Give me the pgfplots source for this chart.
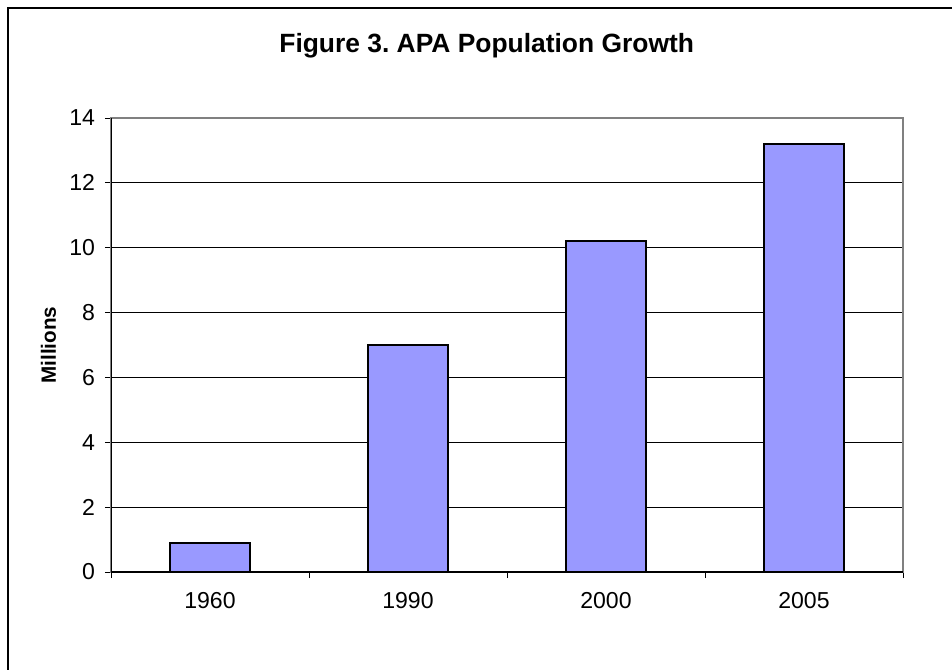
\documentclass[border=0pt]{standalone}
\usepackage{pgfplots}
\pgfplotsset{compat=1.18}
\usepackage{fontspec}
\setmainfont{Liberation Sans}
\definecolor{barblue}{HTML}{9999FF}
\frenchspacing
\begin{document}
\begin{tikzpicture}
\useasboundingbox (0pt,0pt) rectangle (714pt,-501.75pt);
\begin{scope}
\clip (0pt,0pt) rectangle (714pt,-501.75pt);
\draw[line width=1.2pt] (6pt,-6pt) rectangle (800pt,-600pt);
\end{scope}
\node[font=\bfseries\fontsize{19.8}{22}\selectfont] at (365pt,-34.5pt) {Figure 3. APA Population Growth};
\begin{axis}[
  at={(83.25pt,-429pt)}, anchor=south west,
  width=594pt, height=340.5pt, scale only axis,
  xmin=-0.5, xmax=3.5, ymin=0, ymax=14,
  xtick={0,1,2,3}, xticklabels={1960,1990,2000,2005},
  minor xtick={-0.5,0.5,1.5,2.5,3.5},
  ytick={0,2,4,6,8,10,12,14},
  major x tick style={draw=none},
  tick align=outside, major tick length=4.5pt, minor tick length=4.5pt,
  tick style={black, line width=0.6pt},
  xtick pos=bottom, ytick pos=left,
  ymajorgrids, major grid style={black, line width=0.6pt},
  axis line style={draw=gray, line width=1.4pt},
  tick label style={font=\fontsize{17.3}{20}\selectfont},
  xticklabel style={yshift=-7pt},
  yticklabel style={xshift=-4pt},
  ylabel={Millions}, ylabel style={font=\bfseries\fontsize{15.5}{18}\selectfont, yshift=3pt},
  /pgf/number format/assume math mode=true,
]
\addplot[ybar, bar width=60pt, fill=barblue, draw=black, line width=1.4pt] coordinates {(0,0.9) (1,7.0) (2,10.2) (3,13.2)};
\draw[black, line width=0.9pt] (axis cs:-0.5,14) -- (axis cs:-0.5,0) -- (axis cs:3.5,0);
\end{axis}
\end{tikzpicture}
\end{document}
